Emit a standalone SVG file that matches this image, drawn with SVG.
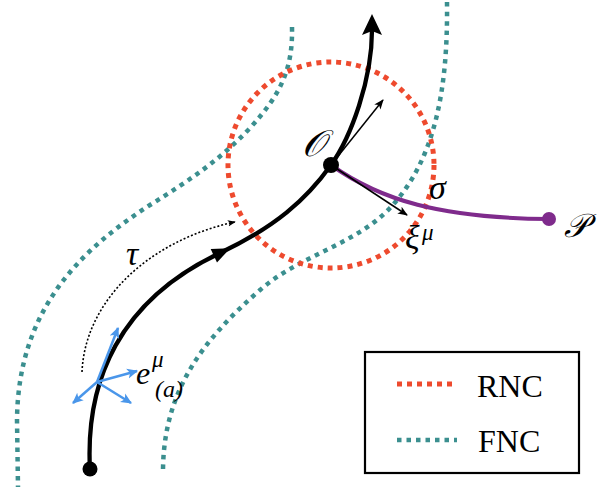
<svg xmlns="http://www.w3.org/2000/svg" width="606" height="489" viewBox="0 0 606 489">
<style>
.rnc{fill:none;stroke:#ee4a2e;stroke-width:5;stroke-dasharray:5 5}
.fnc{fill:none;stroke:#3b8f8f;stroke-width:4.5;stroke-dasharray:4.5 5}
.wl{fill:none;stroke:#000;stroke-width:4.3;stroke-linecap:round}
.thin{fill:none;stroke:#000;stroke-width:1.5}
.blue{fill:none;stroke:#4a96ea;stroke-width:2.5}
.math{font-family:"Liberation Serif","DejaVu Serif",serif;font-style:italic;fill:#000}
.leg{font-family:"Liberation Serif","DejaVu Serif",serif;font-size:32px;fill:#000}
</style>
<defs>
<marker id="ab" viewBox="0 0 10 10" refX="9" refY="5" markerWidth="10" markerHeight="10" markerUnits="userSpaceOnUse" orient="auto"><path d="M0,1 L10,5 L0,9 L2.5,5 Z" fill="#000"/></marker>
<marker id="abl" viewBox="0 0 10 10" refX="9" refY="5" markerWidth="11" markerHeight="11" markerUnits="userSpaceOnUse" orient="auto"><path d="M0,0.5 L10,5 L0,9.5 L2.5,5 Z" fill="#4a96ea"/></marker>
<marker id="ad" viewBox="0 0 10 10" refX="9" refY="5" markerWidth="8" markerHeight="8" markerUnits="userSpaceOnUse" orient="auto"><path d="M0,1 L10,5 L0,9 L2.5,5 Z" fill="#000"/></marker>
</defs>

<g id="fnc-left"><path class="fnc" d="M292,27 C293,70 280,95 250,128 C220,160 190,180 150,205 C80,250 18,310 17,420 L18,487"/></g>
<g id="fnc-right"><path class="fnc" d="M447,2 C448,90 435,160 390,208 C355,245 300,255 260,290 C204,339 163,390 163,472"/></g>
<g id="rnc"><circle class="rnc" cx="331" cy="165" r="103"/></g>

<g id="connectors">
<path id="tau-arrow" d="M82,372 C85,300 150,240 235,222" fill="none" stroke="#000" stroke-width="1.6" stroke-dasharray="2 2" marker-end="url(#ad)"/>
<path id="worldline" class="wl" d="M90,470 C85,380 120,300 220,253 C275,227 306,200 331,165 C351,137 372,80 372,30"/>
<polygon points="372,14 362,35 372,31 382,35" fill="#000"/>
<polygon points="-9,-7.5 9,0 -9,7.5" fill="#000" transform="translate(222,252) rotate(-25)"/>
<path id="geodesic" d="M331,165 C380,200 440,218 549,219" fill="none" stroke="#7f2b8c" stroke-width="4"/>
<line class="thin" x1="331" y1="165" x2="383" y2="100" marker-end="url(#ab)"/>
<line class="thin" x1="331" y1="165" x2="407" y2="215" marker-end="url(#ab)"/>
<g id="tetrad">
<line class="blue" x1="97" y1="382" x2="118" y2="328" marker-end="url(#abl)"/>
<line class="blue" x1="97" y1="382" x2="137" y2="371" marker-end="url(#abl)"/>
<line class="blue" x1="97" y1="382" x2="73" y2="403" marker-end="url(#abl)"/>
<line class="blue" x1="97" y1="382" x2="131" y2="403" marker-end="url(#abl)"/>
</g>
</g>

<g id="node-O"><circle cx="331" cy="165" r="8" fill="#000"/><text class="math" x="313" y="156" font-size="37" text-anchor="middle">𝒪</text></g>
<g id="node-start"><circle cx="90" cy="469" r="7.5" fill="#000"/></g>
<g id="node-P"><circle cx="549" cy="219" r="7" fill="#7f2b8c"/><text class="math" x="564" y="237" font-size="33">𝒫</text></g>

<g id="labels">
<text class="math" x="429" y="199" font-size="34">σ</text>
<text class="math" x="405" y="249" font-size="34">ξ</text>
<text class="math" x="422" y="240" font-size="23">μ</text>
<text class="math" x="126" y="265" font-size="34">τ</text>
<text class="math" x="136" y="384" font-size="32">e</text>
<text class="math" x="152" y="367" font-size="23">μ</text>
<text class="math" x="155" y="397" font-size="24">(a)</text>
</g>

<g id="legend">
<rect x="365" y="352" width="214" height="121" fill="#fff" stroke="#000" stroke-width="2.2"/>
<line class="rnc" x1="397" y1="384" x2="457" y2="384"/>
<text class="leg" x="477" y="397">RNC</text>
<line class="fnc" x1="397" y1="440" x2="457" y2="440"/>
<text class="leg" x="478" y="452">FNC</text>
</g>
</svg>
